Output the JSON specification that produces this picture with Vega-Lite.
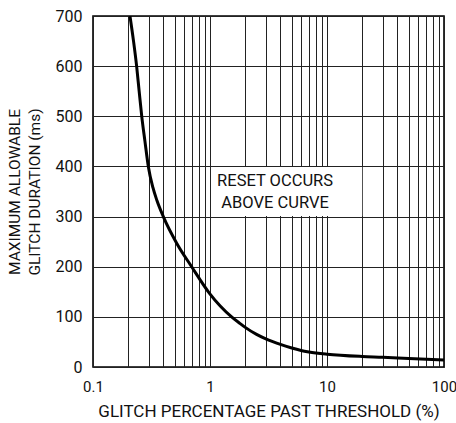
{
  "$schema": "https://vega.github.io/schema/vega-lite/v6.json",
  "width": 351,
  "height": 351,
  "autosize": {"type": "none"},
  "padding": {"left": 93, "top": 16, "right": 12, "bottom": 56},
  "background": "white",
  "config": {
    "view": {"stroke": "#000", "strokeWidth": 1.6},
    "font": "Roboto",
    "axis": {
      "labelFont": "Roboto",
      "titleFont": "Roboto",
      "labelFontSize": 16,
      "titleFontSize": 15.5,
      "labelColor": "#111",
      "titleColor": "#111",
      "titleFontWeight": "normal",
      "ticks": false,
      "domain": false,
      "gridColor": "#222",
      "gridWidth": 1,
      "gridOpacity": 1
    }
  },
  "layer": [
    {
      "data": {"values": [{"x0": 1.03, "x1": 20, "y0": 301, "y1": 399}]},
      "mark": {"type": "rect", "fill": "white", "stroke": null},
      "encoding": {
        "x": {"field": "x0", "type": "quantitative", "scale": {"type": "log", "domain": [0.1, 100]},
          "axis": {
            "values": [0.1,0.2,0.3,0.4,0.5,0.6,0.7,0.8,0.9,1,2,3,4,5,6,7,8,9,10,20,30,40,50,60,70,80,90,100],
            "labelExpr": "(datum.value == 0.1 || datum.value == 1 || datum.value == 10 || datum.value == 100) ? format(datum.value, '~g') : ''",
            "labelOverlap": false,
            "labelFlush": false,
            "labelBound": false,
            "labelFontSize": 15,
            "labelPadding": 12,
            "title": "GLITCH PERCENTAGE PAST THRESHOLD (%)",
            "titleFontSize": 17,
            "titlePadding": 9,
            "encode": {"labels": {"update": {"dx": {"signal": "datum.value == 100 ? -3 : 0"}}}}
          }},
        "x2": {"field": "x1"},
        "y": {"field": "y0", "type": "quantitative", "scale": {"domain": [0, 700]},
          "axis": {
            "values": [0,100,200,300,400,500,600,700],
            "labelPadding": 11,
            "title": ["MAXIMUM ALLOWABLE", "GLITCH DURATION (ms)"],
            "titlePadding": 13,
            "titleLineHeight": 20
          }},
        "y2": {"field": "y1"}
      }
    },
    {
      "data": {"values": [
        {"pct": 0.207, "ms": 700},
        {"pct": 0.222, "ms": 650},
        {"pct": 0.236, "ms": 600},
        {"pct": 0.248, "ms": 550},
        {"pct": 0.261, "ms": 500},
        {"pct": 0.278, "ms": 450},
        {"pct": 0.297, "ms": 400},
        {"pct": 0.325, "ms": 358},
        {"pct": 0.352, "ms": 332},
        {"pct": 0.399, "ms": 300},
        {"pct": 0.519, "ms": 247},
        {"pct": 0.697, "ms": 200},
        {"pct": 0.99, "ms": 147},
        {"pct": 1.53, "ms": 100},
        {"pct": 1.8, "ms": 87},
        {"pct": 2, "ms": 79},
        {"pct": 2.5, "ms": 65},
        {"pct": 3, "ms": 56},
        {"pct": 4, "ms": 45},
        {"pct": 5, "ms": 38},
        {"pct": 6, "ms": 33},
        {"pct": 7, "ms": 30},
        {"pct": 10, "ms": 25.5},
        {"pct": 20, "ms": 21},
        {"pct": 30, "ms": 19.5},
        {"pct": 50, "ms": 17},
        {"pct": 100, "ms": 14}
      ]},
      "mark": {"type": "line", "color": "#000", "strokeWidth": 3, "interpolate": "monotone", "clip": true},
      "encoding": {
        "x": {"field": "pct", "type": "quantitative"},
        "y": {"field": "ms", "type": "quantitative"}
      }
    },
    {
      "data": {"values": [
        {"lx": 3.6, "ly": 370, "label": "RESET OCCURS"},
        {"lx": 3.6, "ly": 328, "label": "ABOVE CURVE"}
      ]},
      "mark": {"type": "text", "fontSize": 16.5, "font": "Roboto", "color": "#111", "align": "center", "baseline": "middle"},
      "encoding": {
        "x": {"field": "lx", "type": "quantitative"},
        "y": {"field": "ly", "type": "quantitative"},
        "text": {"field": "label"}
      }
    }
  ]
}
